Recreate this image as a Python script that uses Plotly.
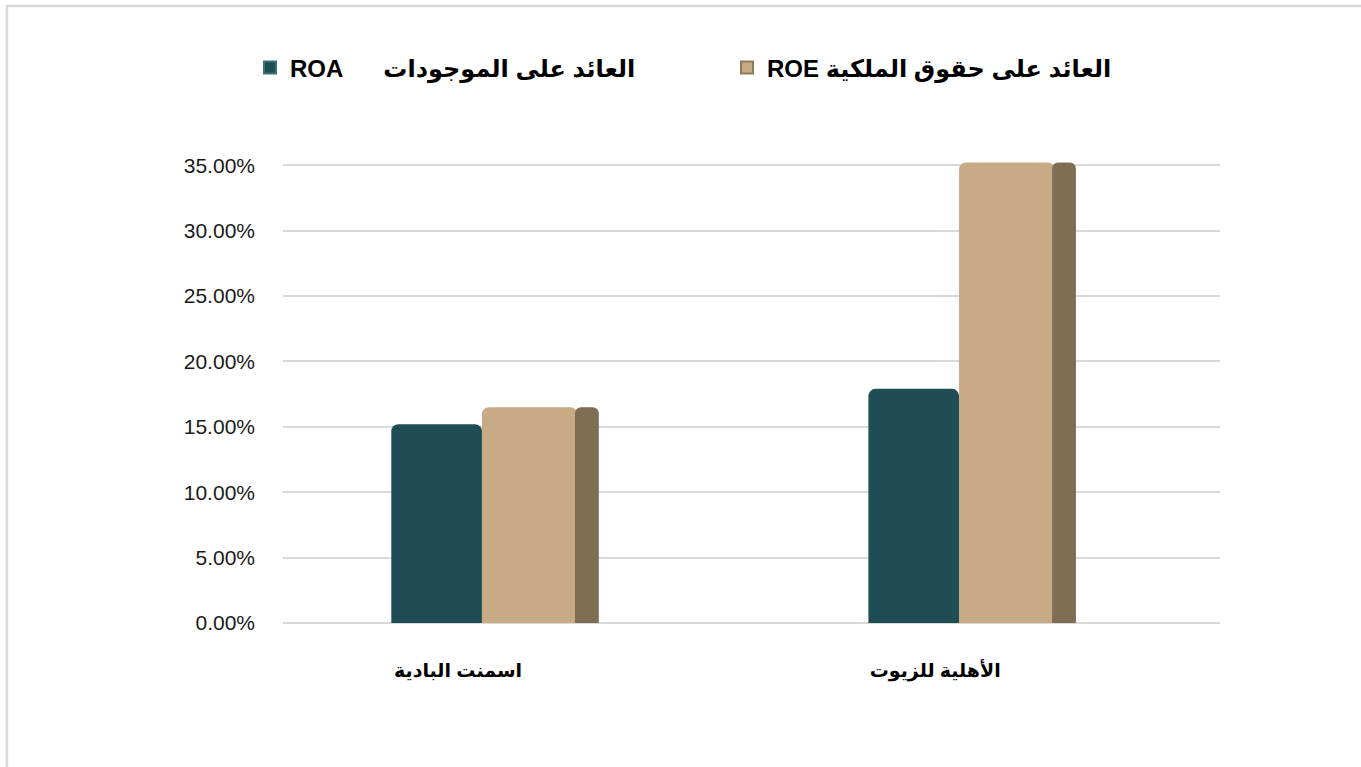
import plotly.graph_objects as go

# companies (x categories) and ratios
companies = ["اسمنت البادية", "الأهلية للزيوت"]
roa = [0.152, 0.179]
roe = [0.165, 0.352]

roa_name = "ROA" + "\u00a0" * 6 + "العائد على الموجودات"
roe_name = "ROE العائد على حقوق الملكية"

teal = "#1f4d55"
tan = "#c8aa85"
tan_side = "#7f6e54"
grid = "#d9d9d9"
font_fam = "Liberation Sans, Arial, DejaVu Sans, sans-serif"

fig = go.Figure()

fig.add_trace(go.Bar(x=companies, y=roa, name=roa_name, showlegend=False,
                     offset=-0.14, width=0.19,
                     marker=dict(color=teal, cornerradius=7, line=dict(width=0))))

fig.add_trace(go.Bar(x=companies, y=roe, name=roe_name, showlegend=False,
                     offset=0.05, width=0.2,
                     marker=dict(color=tan, cornerradius=7, line=dict(width=0))))

# darker side face of the ROE bars for a bit of depth
fig.add_trace(go.Bar(x=companies, y=roe, name="side", showlegend=False,
                     offset=0.245, width=0.05, hoverinfo="skip",
                     marker=dict(color=tan_side, cornerradius=6, line=dict(width=0))))

# legend entries with square keys, one legend per series so they sit apart
fig.add_trace(go.Scatter(x=[None], y=[None], mode="markers", name=roa_name,
                         legend="legend",
                         marker=dict(symbol="square", size=14, color=teal,
                                     line=dict(color="#3d7079", width=1))))
fig.add_trace(go.Scatter(x=[None], y=[None], mode="markers", name=roe_name,
                         legend="legend2",
                         marker=dict(symbol="square", size=14, color=tan,
                                     line=dict(color="#8f7b5c", width=1))))

legend_font = dict(size=24, color="#000000", weight="bold")

fig.update_layout(
    width=1361,
    height=767,
    barmode="overlay",
    paper_bgcolor="white",
    plot_bgcolor="white",
    margin=dict(l=283, r=141, t=139, b=144),
    font=dict(family=font_fam, color="#1a1a1a"),
    legend=dict(
        orientation="h",
        xref="container", yref="container",
        x=250 / 1361, xanchor="left",
        y=1 - 68 / 767, yanchor="middle",
        font=legend_font,
        itemsizing="constant",
    ),
    legend2=dict(
        orientation="h",
        xref="container", yref="container",
        x=727 / 1361, xanchor="left",
        y=1 - 68 / 767, yanchor="middle",
        font=legend_font,
        itemsizing="constant",
    ),
    showlegend=True,
)

fig.update_yaxes(
    range=[0, 0.37],
    dtick=0.05,
    tick0=0,
    tickformat=".2%",
    showgrid=True,
    gridcolor=grid,
    gridwidth=2,
    zeroline=True,
    zerolinecolor=grid,
    zerolinewidth=2,
    showline=False,
    ticks="",
    ticklabelstandoff=27,
    tickfont=dict(size=21, color="#1a1a1a"),
)

fig.update_xaxes(
    type="category",
    range=[-0.367, 1.597],
    showgrid=False,
    showline=False,
    ticks="",
    ticklabelstandoff=34,
    tickfont=dict(size=19, color="#000000", weight="bold"),
)

# light grey frame on the top and left edge
fig.add_shape(type="path",
              path="M -0.2946 -0.4 L -0.2946 1.2748 L 1.2 1.2748",
              xref="paper", yref="paper",
              line=dict(color=grid, width=2.5))

fig.write_html("out.html", config={"displayModeBar": False},
               post_script="document.body.style.margin='0';")
